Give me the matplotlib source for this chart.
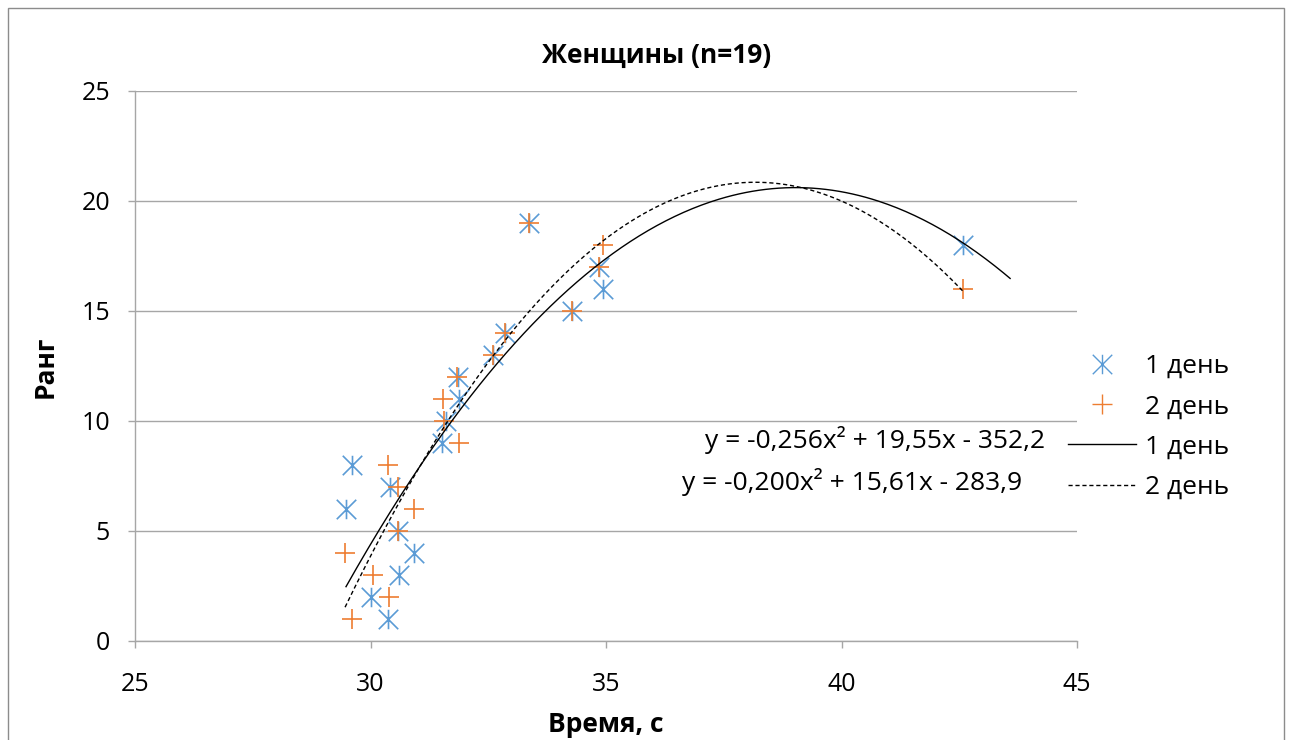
import numpy as np
import matplotlib
matplotlib.use("Agg")
import matplotlib.pyplot as plt
from matplotlib.path import Path
from matplotlib.lines import Line2D
from matplotlib.patches import Rectangle

plt.rcParams['font.family'] = ['Open Sans', 'DejaVu Sans']

# Data: time (s) and rank
time_day1 = [29.48, 29.60, 30.02, 30.38, 30.41, 30.58, 30.60, 30.92, 31.52, 31.60,
             31.88, 31.86, 32.60, 32.86, 34.28, 34.94, 34.85, 42.58, 33.37]
rank_day1 = [6, 8, 2, 1, 7, 5, 3, 4, 9, 10, 11, 12, 13, 14, 15, 16, 17, 18, 19]
time_day2 = [29.60, 30.40, 30.05, 29.46, 30.58, 30.92, 30.58, 30.37, 31.88, 31.56,
             31.54, 31.84, 32.60, 32.86, 34.28, 42.58, 34.85, 34.94, 33.37]
rank_day2 = [1, 2, 3, 4, 5, 6, 7, 8, 9, 10, 11, 12, 13, 14, 15, 16, 17, 18, 19]

series_labels = ["1 день", "2 день"]
eq_labels = ["y = -0,256x² + 19,55x - 352,2", "y = -0,200x² + 15,61x - 283,9"]
title = "Женщины (n=19)"
xlabel = "Время, с"
ylabel = "Ранг"

BLUE = "#5B9BD5"
ORANGE = "#ED7D31"
GRID = "#A6A6A6"

# Excel-like asterisk marker: X plus vertical bar
star_path = Path(
    [(-0.5, -0.5), (0.5, 0.5), (-0.5, 0.5), (0.5, -0.5), (0, -0.5), (0, 0.5)],
    [Path.MOVETO, Path.LINETO, Path.MOVETO, Path.LINETO, Path.MOVETO, Path.LINETO])

fig = plt.figure(figsize=(12.92, 7.40), dpi=100)
W, H = 1292, 740
ax = fig.add_axes([135 / W, (H - 641) / H, (1077 - 135) / W, (641 - 91) / H])

ax.plot(time_day1, rank_day1, linestyle='none', marker=star_path, markersize=14,
        markerfacecolor='none', markeredgecolor=BLUE, markeredgewidth=1.2, zorder=3)
ax.plot(time_day2, rank_day2, linestyle='none', marker='+', markersize=14,
        markeredgecolor=ORANGE, markeredgewidth=1.2, zorder=4)

# Polynomial trendlines (order 2)
c1 = np.polyfit(time_day1, rank_day1, 2)
c2 = np.polyfit(time_day2, rank_day2, 2)
xs1 = np.linspace(min(time_day1), max(time_day1) + 1.0, 300)
xs2 = np.linspace(min(time_day2), max(time_day2), 300)
ax.plot(xs1, np.polyval(c1, xs1), color='black', linewidth=1.0, zorder=5)
ax.plot(xs2, np.polyval(c2, xs2), color='black', linewidth=1.0, linestyle=(0, (3, 2)), zorder=5)

ax.set_xlim(25, 45)
ax.set_ylim(0, 25)
ax.set_xticks(np.arange(25, 46, 5))
ax.set_yticks(np.arange(0, 26, 5))
ax.yaxis.grid(True, color=GRID, linewidth=1.0)
ax.set_axisbelow(True)
for s in ['top', 'right']:
    ax.spines[s].set_visible(False)
for s in ['left', 'bottom']:
    ax.spines[s].set_color(GRID)
    ax.spines[s].set_linewidth(1.0)
ax.tick_params(axis='both', colors=GRID, labelcolor='black', labelsize=18, length=5, width=1.0)
ax.tick_params(axis='x', pad=17)
ax.tick_params(axis='y', pad=13)

fig.text(657 / W, 1 - 55 / H, title, ha='center', va='center', fontsize=19, fontweight='bold')
fig.text(606 / W, 1 - 725 / H, xlabel, ha='center', va='center', fontsize=19, fontweight='bold')
fig.text(45 / W, 1 - 367 / H, ylabel, ha='center', va='center', fontsize=19, fontweight='bold',
         rotation=90)

# Legend
handles = [
    Line2D([], [], linestyle='none', marker=star_path, markersize=14, markerfacecolor='none',
           markeredgecolor=BLUE, markeredgewidth=1.0),
    Line2D([], [], linestyle='none', marker='+', markersize=14, markeredgecolor=ORANGE,
           markeredgewidth=1.0),
    Line2D([], [], color='black', linewidth=1.0),
    Line2D([], [], color='black', linewidth=1.0, linestyle=(0, (3, 2))),
]
labels = series_labels + series_labels
leg = fig.legend(handles, labels, loc='center left', bbox_to_anchor=(1057 / W, 1 - 427 / H),
                 frameon=False, fontsize=19, handlelength=2.58, handletextpad=0.34,
                 labelspacing=0.58, borderaxespad=0)

fig.text(1045 / W, 1 - 440 / H, eq_labels[0], ha='right', va='center', fontsize=19)
fig.text(682 / W, 1 - 482 / H, eq_labels[1], ha='left', va='center', fontsize=19)

# Chart area border
fig.add_artist(Rectangle((8 / W, -0.01), (1284 - 8) / W, 1 - 8 / H + 0.01, transform=fig.transFigure,
                         fill=False, edgecolor='#8C8C8C', linewidth=1.0))

fig.savefig("out.png", dpi=100)
